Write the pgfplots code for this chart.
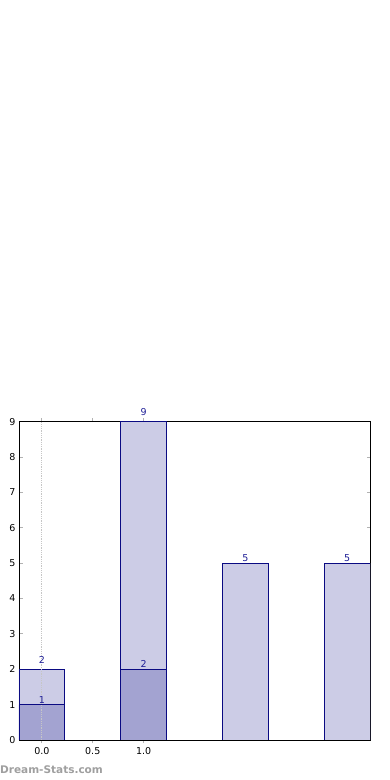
\documentclass[border=0pt]{standalone}
\usepackage{fontspec}
\setmainfont{DejaVu Sans}
\usepackage{pgfplots}
\pgfplotsset{compat=1.18}
\definecolor{lightbar}{RGB}{204,204,230}
\definecolor{darkbar}{RGB}{163,163,209}
\definecolor{edge}{RGB}{10,10,130}
\definecolor{lab}{RGB}{30,30,150}
\begin{document}
\begin{tikzpicture}[x=1pt,y=1pt]
\useasboundingbox (0,0) rectangle (390,780);
\begin{axis}[at={(19pt,40pt)}, anchor=south west, scale only axis,
  width=351pt, height=318.3pt,
  xmin=-0.225, xmax=3.225, ymin=0, ymax=9,
  xtick={0,0.5,1}, xticklabels={0.0,0.5,1.0},
  ytick={0,1,...,9},
  tick align=inside, major tick length=3.5pt,
  tick style={gray!60, line width=1pt},
  axis line style={black, line width=0.8pt},
  tick label style={font=\fontsize{9.5}{11}\selectfont},
  /pgf/number format/assume math mode=true,
  ybar, bar width=0.45,
  every axis plot/.append style={bar shift=0pt},
  nodes near coords,
  visualization depends on={\thisrow{off}\as\off},
  every node near coord/.append style={font=\fontsize{9.5}{11}\selectfont, text=lab, anchor=south, inner sep=1.5pt, yshift=\off pt},
]
\addplot[fill=lightbar, draw=edge, line width=0.7pt] table {
x y off
0 2 3.5
1 9 4.5
2 5 0
3 5 0
};
\addplot[fill=darkbar, draw=edge, line width=0.7pt] table {
x y off
0 1 -0.5
1 2 -0.5
};
\addplot[sharp plot, nodes near coords={}, gray!45, densely dotted, line width=0.8pt, forget plot] table {
x y off
0 0 0
0 9 0
};
\end{axis}
\node[anchor=west, inner sep=0pt, text=gray!75, font=\fontsize{10.5}{12}\selectfont\bfseries] at (0,10) {Dream-Stats.com};
\end{tikzpicture}
\end{document}
